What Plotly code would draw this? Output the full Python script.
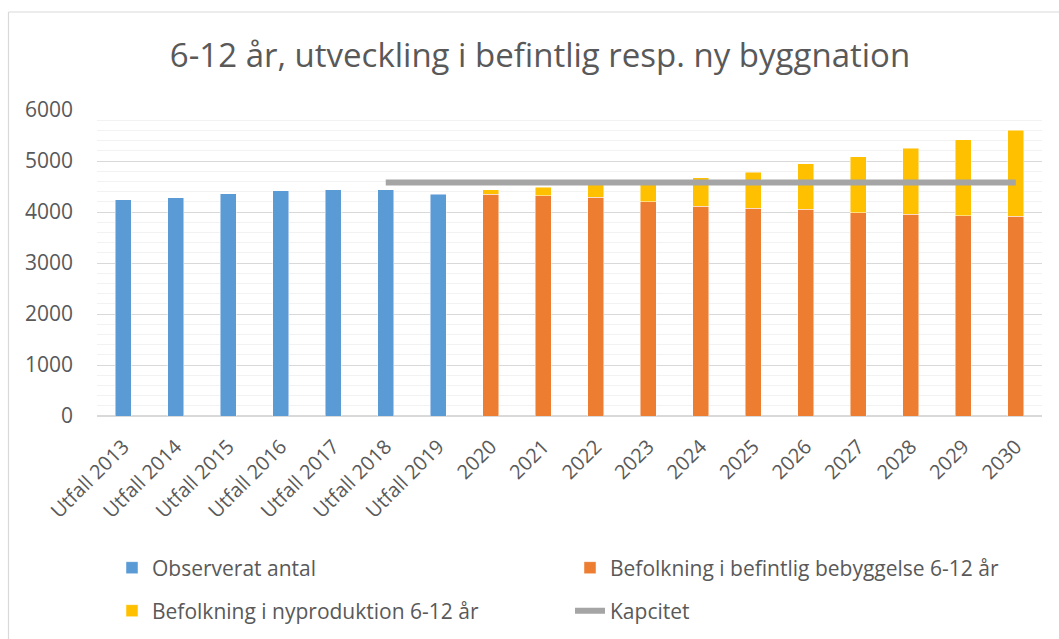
import plotly.graph_objects as go

categories = ["Utfall 2013", "Utfall 2014", "Utfall 2015", "Utfall 2016", "Utfall 2017",
              "Utfall 2018", "Utfall 2019", "2020", "2021", "2022", "2023", "2024",
              "2025", "2026", "2027", "2028", "2029", "2030"]
observed = [4240, 4280, 4355, 4415, 4435, 4440, 4350] + [None] * 11
existing = [None] * 7 + [4345, 4315, 4290, 4200, 4110, 4075, 4050, 3990, 3955, 3930, 3915]
new_prod = [None] * 7 + [90, 175, 290, 400, 560, 700, 900, 1095, 1300, 1485, 1685]
capacity = [None] * 5 + [4580] * 13

W, H = 1059, 639
L, R, T, B = 97, 17, 110, 223
PW, PH = W - L - R, H - T - B

def px_x(px):
    return (px - L) / PW

def px_y(py):
    return (H - B - py) / PH

FONT = "Open Sans"
TXT = "#595959"

fig = go.Figure()
fig.add_trace(go.Bar(x=categories, y=observed, name="Observerat antal",
                     marker=dict(color="#5B9BD5", line=dict(width=0.8, color="rgba(255,255,255,0.6)")),
                     legend="legend"))
fig.add_trace(go.Bar(x=categories, y=existing, name="Befolkning i befintlig bebyggelse 6-12 år",
                     marker=dict(color="#ED7D31", line=dict(width=0.8, color="rgba(255,255,255,0.6)")),
                     legend="legend"))
fig.add_trace(go.Bar(x=categories, y=new_prod, name="Befolkning i nyproduktion 6-12 år",
                     marker=dict(color="#FFC000", line=dict(width=0.8, color="rgba(255,255,255,0.6)")),
                     legend="legend2"))
fig.add_trace(go.Scatter(x=categories, y=capacity, name="Kapcitet", mode="lines",
                         line=dict(color="#A5A5A5", width=6), legend="legend2"))

legend_common = dict(orientation="h", font=dict(family=FONT, size=21, color=TXT),
                     entrywidth=413, entrywidthmode="pixels", traceorder="normal",
                     bgcolor="rgba(0,0,0,0)", xanchor="left", yanchor="middle")

fig.update_layout(
    width=W, height=H,
    margin=dict(l=L, r=R, t=T, b=B, autoexpand=False),
    paper_bgcolor="white", plot_bgcolor="white",
    barmode="stack", bargap=0.69,
    title=dict(text="6-12 år, utveckling i befintlig resp. ny byggnation",
               x=540 / W, xref="container", xanchor="center",
               y=1 - 55 / H, yref="container", yanchor="middle",
               font=dict(family=FONT, size=33, color=TXT)),
    xaxis=dict(type="category", tickangle=-45, showgrid=False, showline=True,
               linecolor="#D9D9D9", ticks="", automargin=False, ticklabelstandoff=10,
               tickfont=dict(family=FONT, size=20, color=TXT)),
    yaxis=dict(range=[0, 6000], dtick=1000, showgrid=True, gridcolor="#D9D9D9",
               zeroline=True, zerolinecolor="#D9D9D9", ticks="", ticklabelstandoff=23,
               automargin=False,
               tickfont=dict(family=FONT, size=21, color=TXT),
               minor=dict(dtick=200, showgrid=True, gridcolor="#F2F2F2")),
    legend=dict(x=px_x(112), y=px_y(568), **legend_common),
    legend2=dict(x=px_x(112), y=px_y(611), **legend_common),
    shapes=[
        dict(type="line", xref="paper", yref="paper", x0=px_x(8.5), x1=px_x(1059),
             y0=px_y(12), y1=px_y(12), line=dict(color="#D9D9D9", width=1.2)),
        dict(type="line", xref="paper", yref="paper", x0=px_x(8.5), x1=px_x(8.5),
             y0=px_y(12), y1=px_y(639), line=dict(color="#D9D9D9", width=1.2)),
    ],
)

fig.write_html("out.html", config={"displayModeBar": False},
               post_script="document.body.style.margin='0';")
